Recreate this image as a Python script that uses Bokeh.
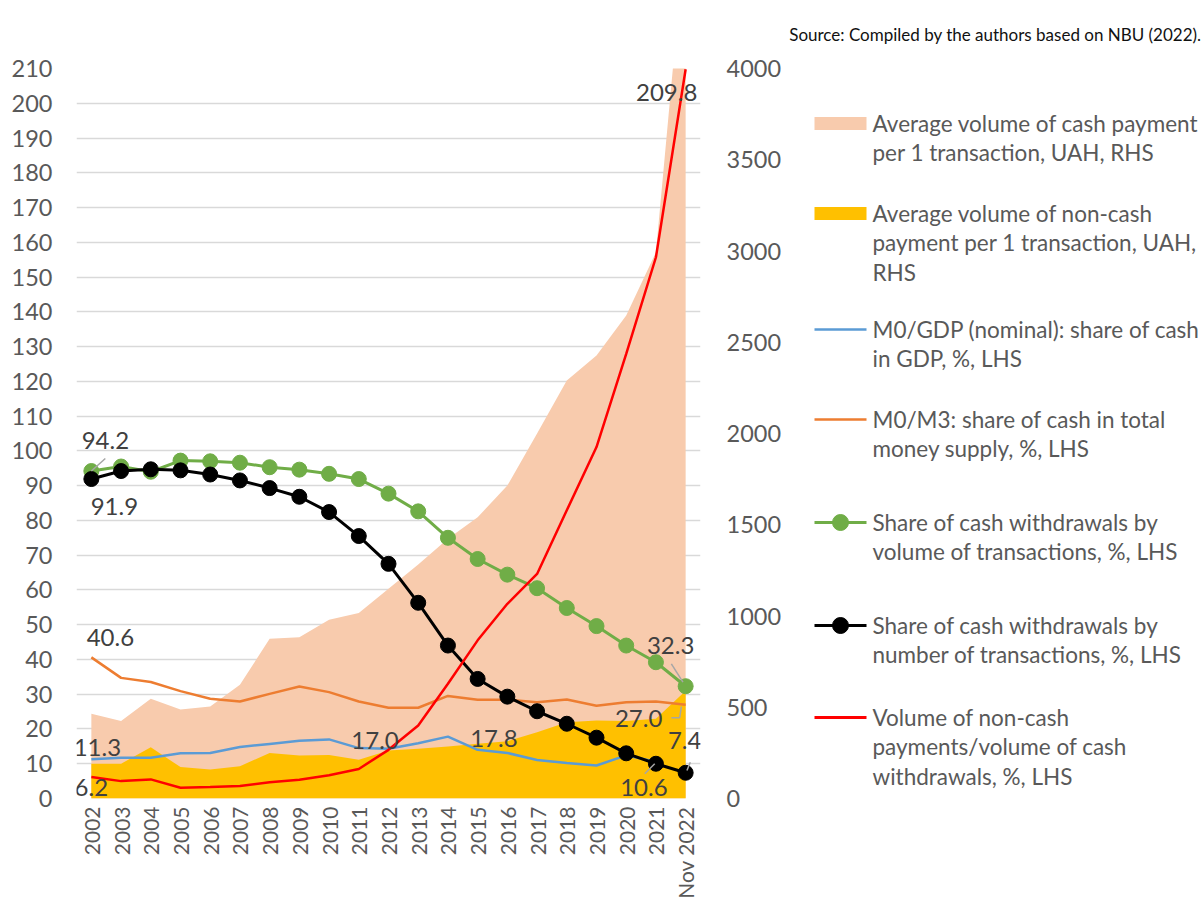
import math
from bokeh.plotting import figure
from bokeh.models import FactorRange, Range1d, LinearAxis, FixedTicker, ColumnDataSource, LabelSet, Title
from bokeh.layouts import row
from bokeh.core.properties import value
from bokeh.embed import file_html
from bokeh.resources import INLINE

# ---------------- data ----------------
years = ["2002", "2003", "2004", "2005", "2006", "2007", "2008", "2009", "2010",
         "2011", "2012", "2013", "2014", "2015", "2016", "2017", "2018", "2019",
         "2020", "2021", "Nov 2022"]

# RHS, UAH
cash_payment_avg = [464, 424, 546, 488, 504, 623, 875, 884, 979, 1016, 1149,
                    1282, 1423, 1541, 1715, 2000, 2290, 2427, 2647, 2993, 4760]
noncash_payment_avg = [190, 190, 281, 172, 159, 177, 250, 236, 239, 212, 263,
                       272, 285, 300, 314, 363, 418, 427, 424, 437, 590]

# LHS, %
m0_gdp = [11.3, 11.7, 11.7, 13.0, 13.1, 14.8, 15.7, 16.6, 17.0, 14.5, 14.3,
          15.9, 17.8, 14.0, 13.1, 11.1, 10.2, 9.5, 12.4, 10.6, float("nan")]
m0_m3 = [40.6, 34.7, 33.5, 30.9, 28.7, 27.9, 30.1, 32.2, 30.6, 27.9, 26.1,
         26.1, 29.5, 28.4, 28.4, 27.7, 28.5, 26.7, 27.7, 27.9, 27.0]
cash_share_volume = [94.2, 95.5, 94.0, 97.2, 97.0, 96.6, 95.3, 94.6, 93.4, 91.9,
                     87.7, 82.6, 75.0, 68.9, 64.4, 60.5, 54.8, 49.6, 44.0, 39.2, 32.3]
cash_share_number = [91.9, 94.2, 94.7, 94.4, 93.2, 91.5, 89.3, 86.8, 82.4, 75.5,
                     67.5, 56.3, 44.0, 34.4, 29.3, 25.1, 21.5, 17.5, 13.0, 10.0, 7.4]
noncash_to_cash = [6.2, 5.0, 5.5, 3.1, 3.3, 3.6, 4.7, 5.4, 6.7, 8.5, 14.0,
                   21.0, 33.0, 45.5, 56.0, 64.6, 82.9, 101.1, 127.9, 155.7, 209.8]

left_ticks = list(range(0, 211, 10))
right_ticks = list(range(0, 4001, 500))

series_names = [
    ["Average volume of cash payment", "per 1 transaction, UAH, RHS"],
    ["Average volume of non-cash", "payment per 1 transaction, UAH,", "RHS"],
    ["M0/GDP (nominal): share of cash", "in GDP, %, LHS"],
    ["M0/M3: share of cash in total", "money supply, %, LHS"],
    ["Share of cash withdrawals by", "volume of transactions, %, LHS"],
    ["Share of cash withdrawals by", "number of transactions, %, LHS"],
    ["Volume of non-cash", "payments/volume of cash", "withdrawals, %, LHS"],
]
source_note = "Source: Compiled by the authors based on NBU (2022)."

# ---------------- styles ----------------
FONT = "Lato"
GREY = "#595959"
LABEL_GREY = "#404040"
C_PEACH = "#F8CBAD"
C_YELLOW = "#FFC000"
C_BLUE = "#5B9BD5"
C_ORANGE = "#ED7D31"
C_GREEN = "#70AD47"
C_BLACK = "#000000"
C_RED = "#FF0000"

W1, W2, H = 784, 417, 904
FL, FT, FW, FH = 76, 68, 625, 730
YMAX, Y2MAX = 210, 4000

p = figure(width=W1, height=H,
           x_range=FactorRange(factors=years, range_padding=0),
           y_range=Range1d(0, YMAX),
           output_backend="svg", toolbar_location=None,
           min_border_left=FL, min_border_right=W1 - FL - FW,
           min_border_top=FT, min_border_bottom=H - FT - FH)
p.extra_y_ranges = {"right": Range1d(0, Y2MAX)}
p.outline_line_color = None
p.xgrid.grid_line_color = None
p.ygrid.grid_line_color = "#D9D9D9"
p.ygrid.grid_line_width = 1.5
p.ygrid.ticker = FixedTicker(ticks=left_ticks)


def style_axis(ax, size):
    ax.axis_line_color = None
    ax.major_tick_line_color = None
    ax.minor_tick_line_color = None
    ax.major_tick_out = 0
    ax.major_tick_in = 0
    ax.minor_tick_out = 0
    ax.minor_tick_in = 0
    ax.major_label_text_font = FONT
    ax.major_label_text_font_size = size
    ax.major_label_text_color = GREY


ya = p.yaxis[0]
ya.ticker = FixedTicker(ticks=left_ticks)
style_axis(ya, "23.5px")
ya.major_label_standoff = 24

ra = LinearAxis(y_range_name="right", ticker=FixedTicker(ticks=right_ticks))
style_axis(ra, "23.5px")
ra.major_label_standoff = 26
p.add_layout(ra, "right")

xa = p.xaxis[0]
style_axis(xa, "21px")
xa.major_label_orientation = math.pi / 2
xa.major_label_standoff = 8

# areas (RHS)
p.varea(x=years, y1=0, y2=cash_payment_avg, y_range_name="right", fill_color=C_PEACH)
p.varea(x=years, y1=0, y2=noncash_payment_avg, y_range_name="right", fill_color=C_YELLOW)

# lines (LHS)
p.line(x=years, y=m0_gdp, line_color=C_BLUE, line_width=2.5)
p.line(x=years, y=m0_m3, line_color=C_ORANGE, line_width=2.5)
p.line(x=years, y=cash_share_volume, line_color=C_GREEN, line_width=3)
p.scatter(x=years, y=cash_share_volume, size=15, marker="circle",
          fill_color=C_GREEN, line_color=C_GREEN)
p.line(x=years, y=cash_share_number, line_color=C_BLACK, line_width=3)
p.scatter(x=years, y=cash_share_number, size=15, marker="circle",
          fill_color=C_BLACK, line_color=C_BLACK)
p.line(x=years, y=noncash_to_cash, line_color=C_RED, line_width=2.5)

# data labels: (series, index, dx px right, dy px down)
series = {"blue": m0_gdp, "orange": m0_m3, "green": cash_share_volume,
          "black": cash_share_number, "red": noncash_to_cash}
label_specs = [
    ("green", 0, 14, -31), ("black", 0, 23, 27), ("orange", 0, 19, -20),
    ("blue", 0, 6, -12), ("red", 0, 0, 11), ("blue", 8, 46, 1),
    ("blue", 12, 46, 2), ("red", 20, -19, 23), ("green", 20, -15, -41),
    ("orange", 20, -47, 14), ("black", 20, -1, -32), ("blue", 19, -12, 26),
]
lab = ColumnDataSource(dict(
    x=[years[i] for s, i, dx, dy in label_specs],
    y=[series[s][i] for s, i, dx, dy in label_specs],
    text=["%.1f" % series[s][i] for s, i, dx, dy in label_specs],
    xo=[dx for s, i, dx, dy in label_specs],
    yo=[-dy for s, i, dx, dy in label_specs],
))

# leader lines: (series, index, dx0, dy0, dx1, dy1) in px relative to point
ux = FW / len(years)
uy = FH / YMAX
leader_specs = [
    ("green", 0, 0, 0, 14, -12.5),
    ("green", 20, -14.3, -22.4, -2.7, -4),
    ("orange", 20, -14.3, 13.2, -6, 13.2),
    ("orange", 20, -6, 13.2, -4.3, 1.9),
    ("black", 20, 1.3, -2.3, 4.7, -10.6),
    ("blue", 19, -11.2, 12.1, -1.2, 2.1),
]
p.segment(x0=[(years[i], dx0 / ux) for s, i, dx0, dy0, dx1, dy1 in leader_specs],
          y0=[series[s][i] - dy0 / uy for s, i, dx0, dy0, dx1, dy1 in leader_specs],
          x1=[(years[i], dx1 / ux) for s, i, dx0, dy0, dx1, dy1 in leader_specs],
          y1=[series[s][i] - dy1 / uy for s, i, dx0, dy0, dx1, dy1 in leader_specs],
          line_color="#A6A6A6", line_width=1.5)

labels = LabelSet(x="x", y="y", text="text", x_offset="xo", y_offset="yo", source=lab,
                  text_font=value(FONT), text_font_size="24px", text_color=LABEL_GREY,
                  text_align="center", text_baseline="middle")
p.add_layout(labels)

# ---------------- legend panel ----------------
# the frame of this panel is aligned with the chart frame (page y 68..798)
LX0 = W1
q = figure(width=W2, height=H, x_range=Range1d(LX0, LX0 + W2),
           y_range=Range1d(FT + FH, FT),
           output_backend="svg", toolbar_location=None,
           min_border_left=0, min_border_right=0,
           min_border_top=FT, min_border_bottom=H - FT - FH,
           x_axis_location=None, y_axis_location=None)
q.grid.visible = False
q.outline_line_color = None

GX0, GX1, TX = 814, 866, 872
first_y = [123, 213, 329, 419, 522, 625, 717]
LH = 29.3
kinds = [("box", C_PEACH), ("box", C_YELLOW), ("line", C_BLUE), ("line", C_ORANGE),
         ("marker", C_GREEN), ("marker", C_BLACK), ("line", C_RED)]
tx, ty, tt = [], [], []
for (kind, col), y0, lines in zip(kinds, first_y, series_names):
    if kind == "box":
        q.quad(left=GX0, right=GX1, top=y0 - 6.5, bottom=y0 + 6.5,
               fill_color=col, line_color=None)
    else:
        q.segment(x0=GX0, y0=y0, x1=GX1, y1=y0, line_color=col,
                  line_width=3 if kind == "marker" or col == C_RED else 2.5)
        if kind == "marker":
            q.scatter(x=[(GX0 + GX1) / 2], y=[y0], size=16, marker="circle",
                      fill_color=col, line_color=col)
    for k, t in enumerate(lines):
        tx.append(TX)
        ty.append(y0 + k * LH)
        tt.append(t)
q.text(x=tx, y=ty, text=tt, text_font=value(FONT), text_font_size="22.5px",
       text_color=GREY, text_align="left", text_baseline="middle")

src = Title(text=source_note, align="right", vertical_align="top", text_font=FONT,
            text_font_size="17px", text_font_style="normal", text_color="#111111",
            standoff=44)
q.add_layout(src, "above")

layout = row(p, q)
open("out.html", "w").write(file_html(layout, INLINE))
